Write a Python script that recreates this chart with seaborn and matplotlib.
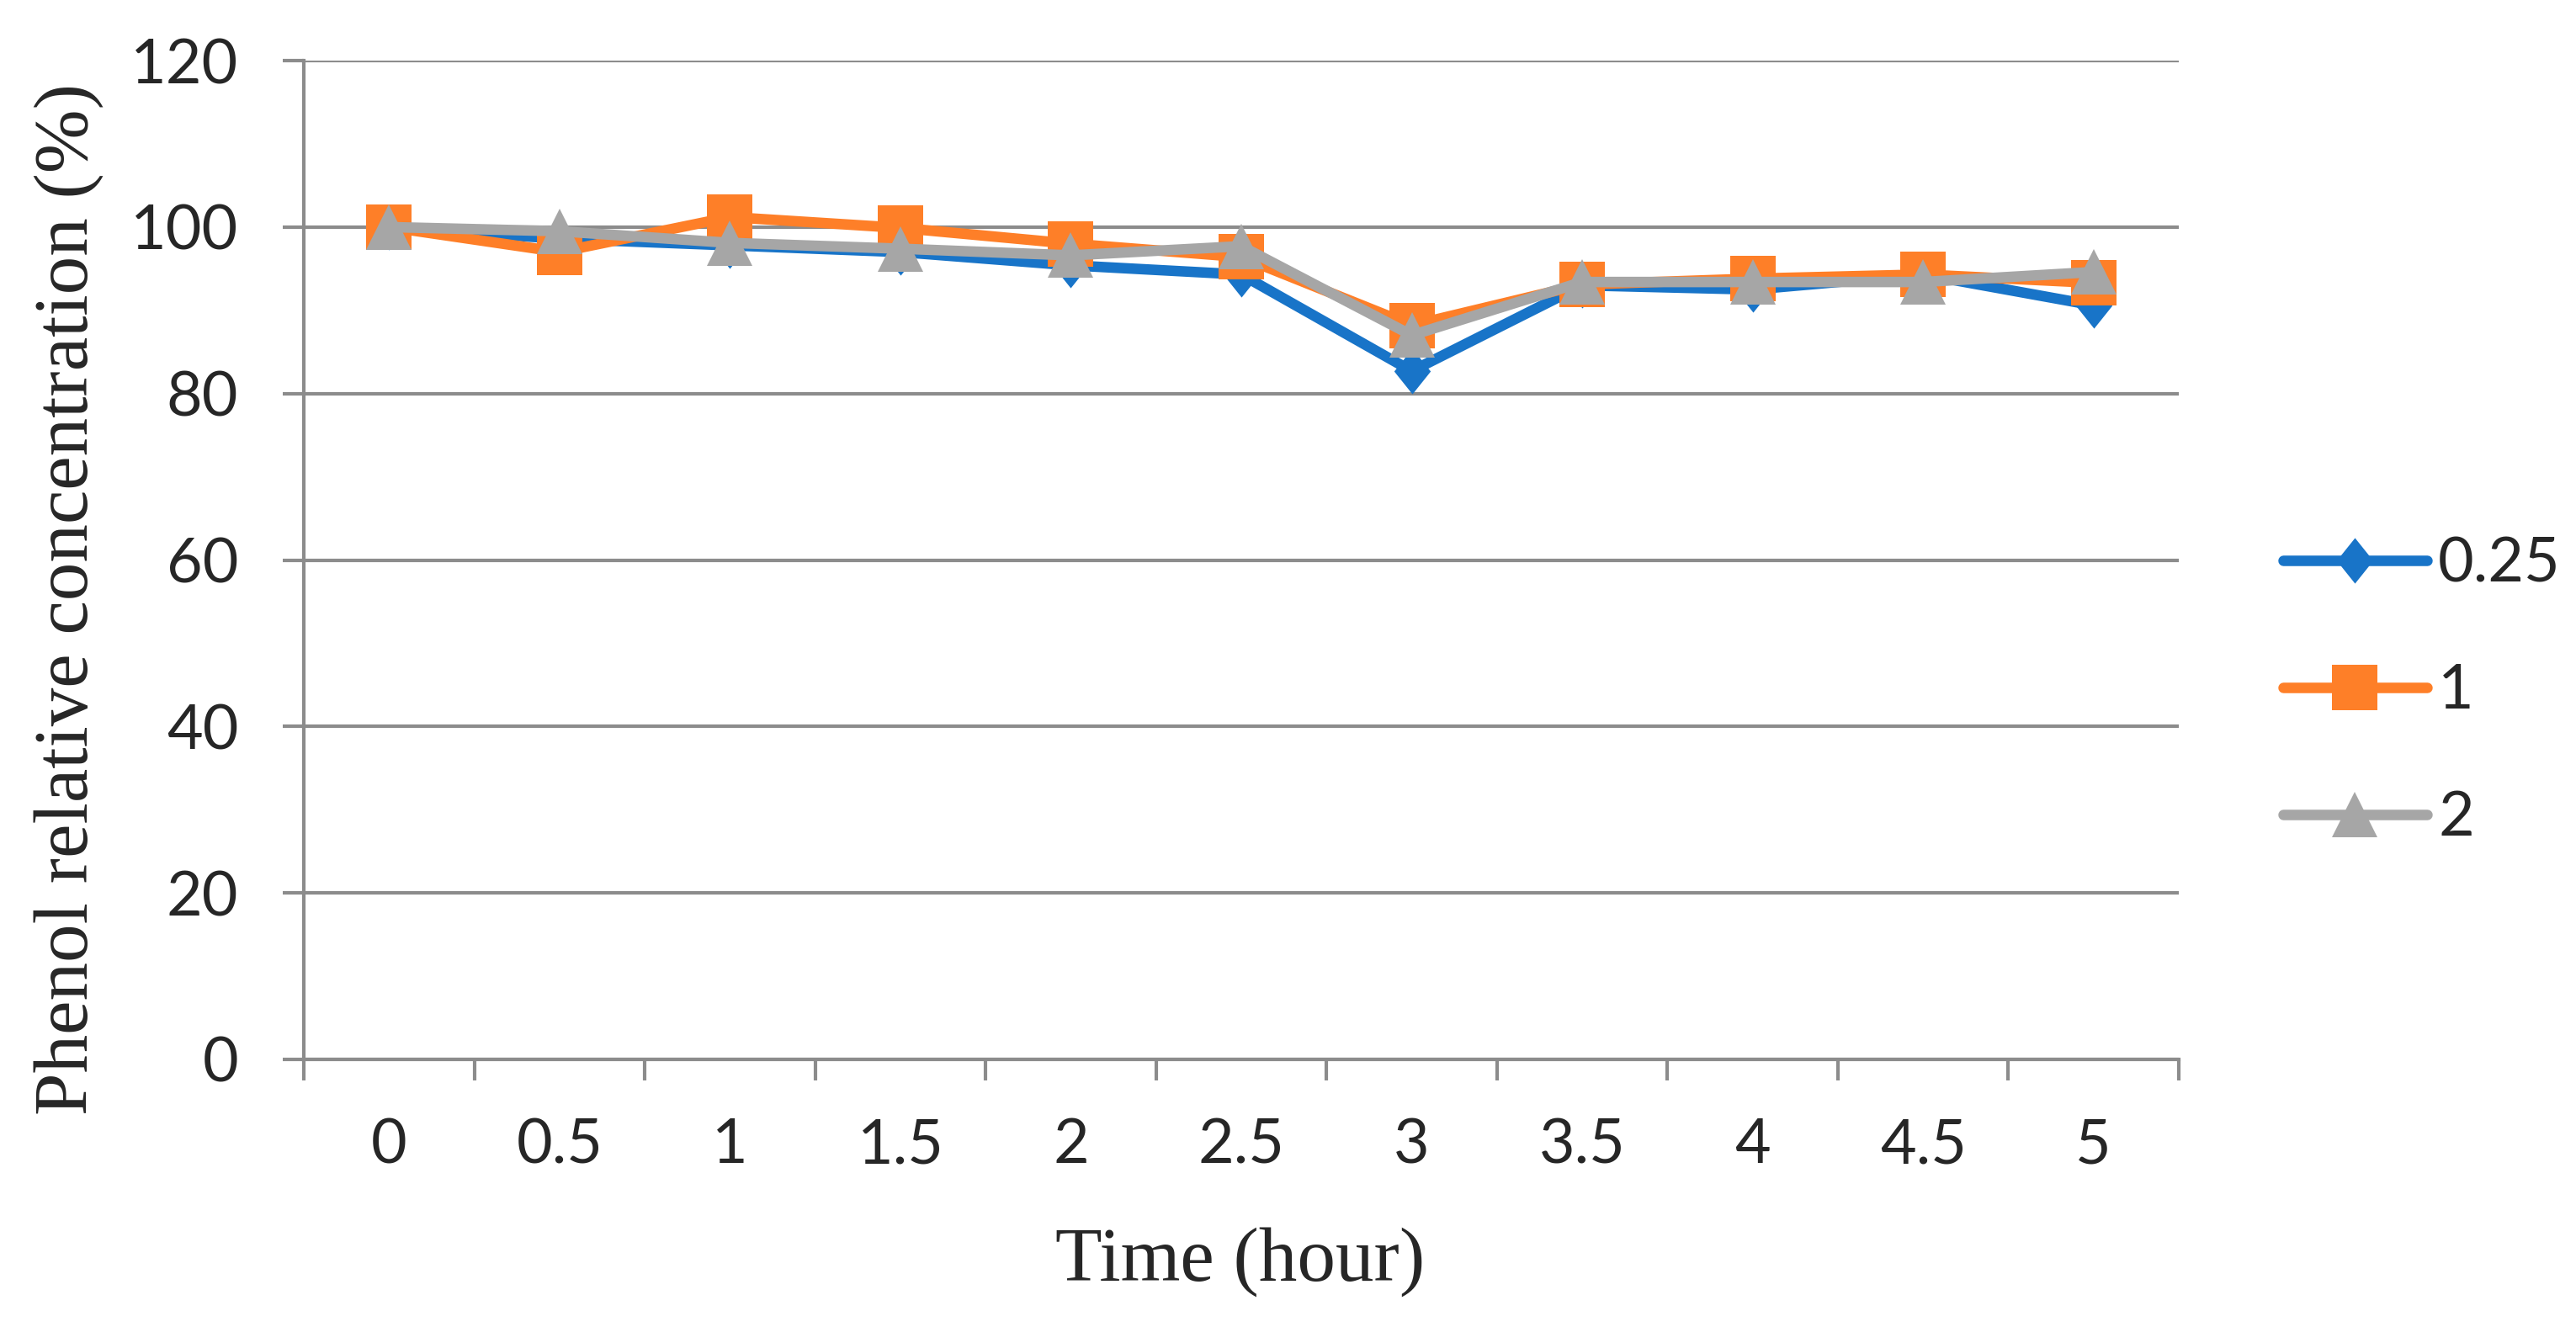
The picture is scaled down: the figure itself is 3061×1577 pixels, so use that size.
import matplotlib
matplotlib.use("Agg")
import matplotlib.pyplot as plt
import numpy as np
import pandas as pd
import seaborn as sns
from matplotlib.path import Path
from matplotlib.ticker import FixedLocator

# Data
times = [0, 0.5, 1, 1.5, 2, 2.5, 3, 3.5, 4, 4.5, 5]
time_labels = ["0", "0.5", "1", "1.5", "2", "2.5", "3", "3.5", "4", "4.5", "5"]
series_names = ["0.25", "1", "2"]
conc_025 = [100.0, 98.6, 97.8, 97.0, 95.4, 94.3, 82.7, 93.0, 92.5, 94.3, 90.6]
conc_1 = [100.0, 97.0, 101.2, 99.9, 98.0, 96.4, 88.2, 93.1, 93.8, 94.3, 93.3]
conc_2 = [100.0, 99.5, 98.1, 97.4, 96.6, 97.7, 87.0, 93.4, 93.4, 93.4, 94.6]
y_ticks = [0, 20, 40, 60, 80, 100, 120]

df = pd.DataFrame({
    "time": times * 3,
    "conc": conc_025 + conc_1 + conc_2,
    "dose": [series_names[0]] * 11 + [series_names[1]] * 11 + [series_names[2]] * 11,
})

colors = ["#1874C8", "#FE7F28", "#A6A6A6"]
grid_col = "#8C8C8C"
diamond = Path([(0, 1), (0.8, 0), (0, -1), (-0.8, 0), (0, 1)],
               [Path.MOVETO, Path.LINETO, Path.LINETO, Path.LINETO, Path.CLOSEPOLY])

sns.set_style("white")
plt.rcParams["font.family"] = ["Lato", "DejaVu Sans"]

fig = plt.figure(figsize=(30.61, 15.77), dpi=100)
ax = fig.add_axes([361 / 3061, 1 - 1259 / 1577, 2228 / 3061, 1187 / 1577])

sns.lineplot(
    data=df, x="time", y="conc", hue="dose", style="dose",
    hue_order=series_names, style_order=series_names,
    palette=dict(zip(series_names, colors)),
    markers=dict(zip(series_names, [diamond, "s", "^"])),
    dashes=False, errorbar=None, legend=False, ax=ax,
    linewidth=9, markersize=39, markeredgewidth=0,
    solid_capstyle="round", solid_joinstyle="round",
)

ax.set_xlim(-0.25, 5.25)
ax.set_ylim(0, 120)
ax.set_xticks(times)
ax.set_xticklabels(time_labels)
ax.xaxis.set_minor_locator(FixedLocator(np.arange(-0.25, 5.26, 0.5)))
ax.set_yticks(y_ticks)
ax.set_yticklabels([str(v) for v in y_ticks])

ax.tick_params(axis="x", which="major", length=0, pad=50, labelsize=53)
ax.tick_params(axis="x", which="minor", length=18, width=3, color=grid_col,
               direction="out", bottom=True)
ax.tick_params(axis="y", which="major", length=18, width=3, color=grid_col,
               direction="out", left=True, pad=38, labelsize=53)

ax.yaxis.grid(True, color=grid_col, linewidth=3)
ax.xaxis.grid(False)
ax.set_axisbelow(True)
for side in ["top", "right"]:
    ax.spines[side].set_visible(False)
for side in ["left", "bottom"]:
    ax.spines[side].set_color(grid_col)
    ax.spines[side].set_linewidth(3)

ax.set_xlabel("")
ax.set_ylabel("")
fig.text(1474 / 3061, 1 - 1500 / 1577, "Time (hour)", ha="center", va="center",
         family="Liberation Serif", fontsize=65.5)
fig.text(82 / 3061, 1 - 712 / 1577, "Phenol relative concentration (%)",
         ha="center", va="center", rotation=90, family="Liberation Serif", fontsize=65.5)

ax.legend(
    handles=ax.lines[:3], labels=series_names,
    loc="center left", bbox_to_anchor=(2713 / 3061, 1 - 822 / 1577),
    bbox_transform=fig.transFigure, frameon=False, fontsize=53,
    borderpad=0, borderaxespad=0, handlelength=2.32, handletextpad=0.18,
    labelspacing=1.14,
)

fig.savefig("out.png", dpi=100)
